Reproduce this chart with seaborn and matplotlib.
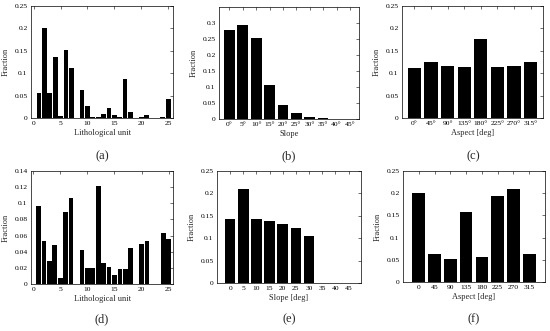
import matplotlib
matplotlib.use("Agg")
import matplotlib.pyplot as plt
import seaborn as sns
import numpy as np
import pandas as pd

# ---- data ----
litho_units = list(range(1, 26))
litho_a = [0.055, 0.200, 0.055, 0.137, 0.005, 0.151, 0.111, 0.000, 0.063, 0.027,
           0.003, 0.002, 0.008, 0.022, 0.006, 0.002, 0.088, 0.013, 0.000, 0.002,
           0.007, 0.001, 0.001, 0.003, 0.042]
litho_d = [0.097, 0.053, 0.029, 0.048, 0.008, 0.089, 0.107, 0.000, 0.042, 0.020,
           0.020, 0.121, 0.026, 0.021, 0.011, 0.018, 0.019, 0.044, 0.000, 0.050,
           0.053, 0.000, 0.000, 0.063, 0.056]

slope_labels_b = ["0°", "5°", "10°", "15°", "20°", "25°", "30°", "35°", "40°", "45°"]
slope_b = [0.278, 0.295, 0.253, 0.107, 0.045, 0.018, 0.005, 0.002, 0.001, 0.001]
slope_labels_e = ["0", "5", "10", "15", "20", "25", "30", "35", "40", "45"]
slope_e = [0.143, 0.210, 0.142, 0.138, 0.132, 0.123, 0.106, 0.0, 0.0, 0.0]

aspect_labels_c = ["0°", "45°", "90°", "135°", "180°", "225°", "270°", "315°"]
aspect_c = [0.111, 0.125, 0.115, 0.113, 0.176, 0.114, 0.115, 0.125]
aspect_labels_f = ["0", "45", "90", "135", "180", "225", "270", "315"]
aspect_f = [0.200, 0.064, 0.052, 0.158, 0.057, 0.193, 0.209, 0.063]

panel_labels = ["(a)", "(b)", "(c)", "(d)", "(e)", "(f)"]

# ---- style ----
sns.set_theme(style="white")
plt.rcParams["font.family"] = ["Liberation Serif", "DejaVu Serif"]
plt.rcParams["axes.linewidth"] = 0.5

W, H = 550, 331
fig = plt.figure(figsize=(W / 100, H / 100), dpi=100)


def add_ax(l, r, t, b):
    return fig.add_axes([l / W, 1 - b / H, (r - l) / W, (b - t) / H])


TICK_FS = 5.4
LAB_FS = 6


def style(ax, yticks, ylim, xlabel):
    ax.set_ylim(*ylim)
    ax.set_yticks(yticks)
    ax.set_yticklabels([f"{v:g}" for v in yticks])
    ax.tick_params(direction="in", length=2, width=0.4, labelsize=TICK_FS,
                   top=True, right=True, pad=2.5, colors="black")
    for s in ax.spines.values():
        s.set_visible(True)
        s.set_color("black")
        s.set_linewidth(0.5)
    ax.set_xlabel(xlabel, fontsize=LAB_FS, labelpad=2)
    ax.set_ylabel("Fraction", fontsize=LAB_FS, labelpad=3.5)


# (a)
ax = add_ax(31, 173, 6, 118)
sns.barplot(x=litho_units, y=litho_a, native_scale=True, color="black",
            saturation=1, width=0.88, ax=ax, errorbar=None, linewidth=0)
ax.set_xlim(-0.5, 25.9)
ax.set_xticks([0, 5, 10, 15, 20, 25])
ax.set_xticklabels(["0", "5", "10", "15", "20", "25"])
style(ax, [0, 0.05, 0.1, 0.15, 0.2, 0.25], (0, 0.25), "Lithological unit")

# (b)
ax = add_ax(219, 359, 7, 119)
sns.barplot(x=slope_labels_b, y=slope_b, color="black", saturation=1,
            width=0.8, ax=ax, errorbar=None, linewidth=0)
ax.set_xlim(-0.78, 9.68)
style(ax, [0, 0.05, 0.1, 0.15, 0.2, 0.25, 0.3], (0, 0.35), "Slope")

# (c)
ax = add_ax(402, 543, 6, 118)
sns.barplot(x=aspect_labels_c, y=aspect_c, color="black", saturation=1,
            width=0.8, ax=ax, errorbar=None, linewidth=0)
ax.set_xlim(-0.75, 7.75)
style(ax, [0, 0.05, 0.1, 0.15, 0.2, 0.25], (0, 0.25), "Aspect [deg]")

# (d)
ax = add_ax(31, 173, 171, 284)
sns.barplot(x=litho_units, y=litho_d, native_scale=True, color="black",
            saturation=1, width=0.88, ax=ax, errorbar=None, linewidth=0)
ax.set_xlim(-0.4, 25.8)
ax.set_xticks([0, 5, 10, 15, 20, 25])
ax.set_xticklabels(["0", "5", "10", "15", "20", "25"])
style(ax, [0, 0.02, 0.04, 0.06, 0.08, 0.1, 0.12, 0.14], (0, 0.14), "Lithological unit")

# (e)
ax = add_ax(217, 361, 171, 283)
sns.barplot(x=slope_labels_e, y=slope_e, color="black", saturation=1,
            width=0.8, ax=ax, errorbar=None, linewidth=0)
ax.set_xlim(-1, 9.95)
style(ax, [0, 0.05, 0.1, 0.15, 0.2, 0.25], (0, 0.25), "Slope [deg]")

# (f)
ax = add_ax(403, 545, 171, 282)
sns.barplot(x=aspect_labels_f, y=aspect_f, color="black", saturation=1,
            width=0.8, ax=ax, errorbar=None, linewidth=0)
ax.set_xlim(-1, 8)
style(ax, [0, 0.05, 0.1, 0.15, 0.2, 0.25], (0, 0.25), "Aspect [deg]")

# panel labels
centers = [(102, 156), (289, 156), (473, 156), (102, 319), (289, 319), (474, 319)]
for (cx, cy), lab in zip(centers, panel_labels):
    fig.text(cx / W, 1 - cy / H, lab, ha="center", va="center", fontsize=9)

fig.savefig("out.png", dpi=100)
